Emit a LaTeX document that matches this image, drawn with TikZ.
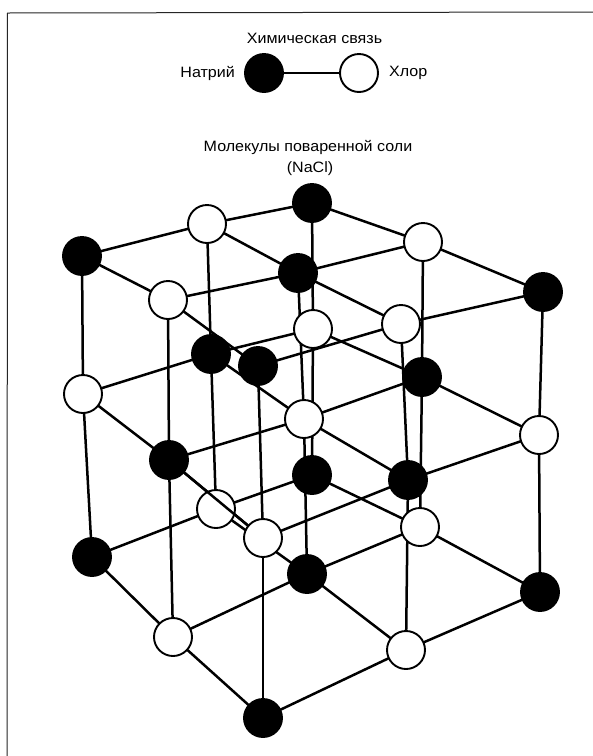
\documentclass[tikz,border=0pt]{standalone}
\usepackage{fontspec}
\setmainfont[FakeStretch=1.07]{Liberation Sans}
\pgfdeclarelayer{bonds}
\pgfsetlayers{bonds,main}
\tikzset{
  ion/.style={circle,draw=black,line width=1.9pt,minimum size=38pt,inner sep=0pt},
  na/.style={ion,fill=black},
  cl/.style={ion,fill=white},
  bond/.style={line width=2.5pt,black},
  lab/.style={inner sep=0pt,font=\fontsize{15}{17}\selectfont}
}
\begin{document}
\begin{tikzpicture}[x=1pt,y=-1pt]
\useasboundingbox (0,0) rectangle (593,756);
\begin{pgfonlayer}{bonds}
\fill[white] (0,0) rectangle (593,756);
\end{pgfonlayer}
\coordinate (ftl) at (7.5,13);
\coordinate (ftr) at (593,12);
\coordinate (fbl) at (7,756);
\draw[line width=1pt,black!85] (ftr) -- (ftl) -- (fbl);
% legend
\node[lab] (tbond) at (314.5,38) {Химическая связь};
\node[na] (lna) at (264,73) {};
\node[cl] (lcl) at (359,73) {};
\node[lab,anchor=east] (tna) at (235,73) {Натрий};
\node[lab,anchor=west] (tcl) at (389,73) {Хлор};
\node[lab] (tmol) at (308,147) {Молекулы поваренной соли};
\node[lab] (tf) at (310,169) {(NaCl)};
% lattice nodes
\foreach \n/\s/\x/\y in {
 c11/na/312/475, c12/cl/420/527, c13/na/540/592,
 c21/cl/216/509, c22/na/307/574, c23/cl/406/650,
 c31/na/92/557,  c32/cl/173/637, c33/na/263/718,
 b11/cl/313/329, b12/na/422/377, b13/cl/539/435,
 b21/na/211/354, b22/cl/304/419, b23/na/408/480,
 b31/cl/83/394,  b32/na/169/460, b33/cl/263/538,
 a11/na/312/203, a12/cl/423/242, a13/na/543/292,
 a21/cl/207/224, a22/na/298/273, a23/cl/401/324,
 a31/na/82/256,  a32/cl/168/300, a33/na/258/366}
 {\node[\s] (\n) at (\x,\y) {};}
% lattice bonds
\begin{pgfonlayer}{bonds}
\draw[bond] (lna) -- (lcl);
\foreach \l in {a,b,c}{
  \foreach \r in {1,2,3}{
    \draw[bond] (\l\r1.center) -- (\l\r2.center);
    \draw[bond] (\l\r2.center) -- (\l\r3.center);
    \draw[bond] (\l1\r.center) -- (\l2\r.center);
    \draw[bond] (\l2\r.center) -- (\l3\r.center);
  }
}
\foreach \r in {1,2,3}{
  \foreach \c in {1,2,3}{
    \draw[bond] (a\r\c.center) -- (b\r\c.center);
    \draw[bond] (b\r\c.center) -- (c\r\c.center);
  }
}
\end{pgfonlayer}
% this bond runs over the white ion behind it
\draw[bond] (b32) -- (b33);
\end{tikzpicture}
\end{document}
